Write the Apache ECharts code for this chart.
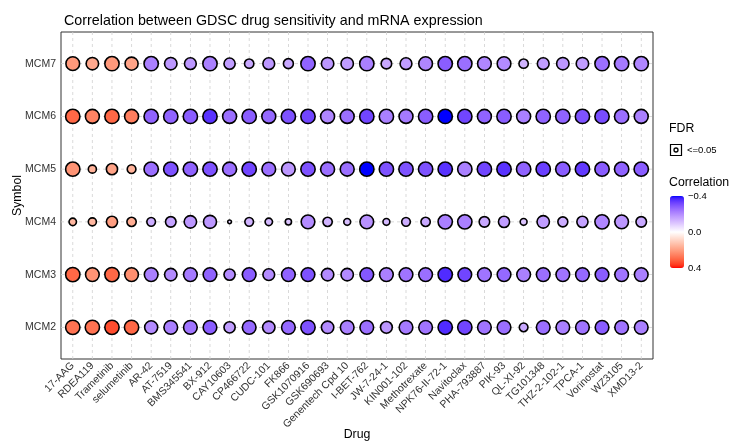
<!DOCTYPE html>
<html>
<head>
<meta charset="utf-8">
<script src="https://cdn.jsdelivr.net/npm/echarts@6/dist/echarts.min.js"></script>
<style>
html,body{margin:0;padding:0;background:#fff;}
#chart{width:731px;height:442px;}
</style>
</head>
<body>
<div id="chart"></div>
<script>
// ---------- data ----------
const drugs = ['17-AAG','RDEA119','Trametinib','selumetinib','AR-42','AT-7519','BMS345541','BX-912','CAY10603','CP466722','CUDC-101','FK866','GSK1070916','GSK690693','Genentech Cpd 10','I-BET-762','JW-7-24-1','KIN001-102','Methotrexate','NPK76-II-72-1','Navitoclax','PHA-793887','PIK-93','QL-XI-92','TG101348','THZ-2-102-1','TPCA-1','Vorinostat','WZ3105','XMD13-2'];
const symbols = ['MCM2','MCM3','MCM4','MCM5','MCM6','MCM7'];
const colorTicks = [-0.4, 0.0, 0.4];
const colorTickLabels = ['\u22120.4', '0.0', '0.4'];

// correlation per gene (drug order as above)
const corMCM2 = [0.28,0.28,0.34,0.30,-0.20,-0.22,-0.24,-0.28,-0.17,-0.26,-0.20,-0.26,-0.30,-0.20,-0.22,-0.25,-0.18,-0.23,-0.24,-0.36,-0.32,-0.24,-0.25,-0.15,-0.25,-0.22,-0.24,-0.28,-0.24,-0.22];
const corMCM3 = [0.30,0.22,0.30,0.23,-0.22,-0.20,-0.23,-0.27,-0.20,-0.28,-0.20,-0.27,-0.30,-0.20,-0.20,-0.29,-0.22,-0.24,-0.25,-0.36,-0.32,-0.24,-0.26,-0.22,-0.25,-0.24,-0.26,-0.28,-0.24,-0.22];
const corMCM4 = [0.15,0.15,0.20,0.17,-0.14,-0.16,-0.18,-0.18,-0.07,-0.13,-0.12,-0.10,-0.20,-0.13,-0.11,-0.19,-0.12,-0.14,-0.15,-0.22,-0.22,-0.15,-0.17,-0.10,-0.17,-0.14,-0.16,-0.21,-0.18,-0.15];
const corMCM5 = [0.22,0.16,0.19,0.16,-0.25,-0.30,-0.27,-0.30,-0.25,-0.32,-0.25,-0.18,-0.30,-0.25,-0.25,-0.40,-0.30,-0.30,-0.30,-0.35,-0.22,-0.32,-0.35,-0.27,-0.33,-0.28,-0.34,-0.28,-0.27,-0.28];
const corMCM6 = [0.30,0.25,0.30,0.26,-0.27,-0.27,-0.28,-0.35,-0.25,-0.28,-0.26,-0.30,-0.32,-0.21,-0.25,-0.32,-0.22,-0.23,-0.28,-0.40,-0.32,-0.27,-0.28,-0.22,-0.27,-0.27,-0.30,-0.31,-0.25,-0.22];
const corMCM7 = [0.21,0.18,0.21,0.19,-0.22,-0.18,-0.18,-0.22,-0.17,-0.15,-0.18,-0.15,-0.27,-0.18,-0.17,-0.22,-0.15,-0.17,-0.21,-0.28,-0.25,-0.21,-0.20,-0.13,-0.17,-0.18,-0.17,-0.25,-0.23,-0.21];

// -log10(FDR) per gene
const fdrMCM2 = [20,20,20,20,16.7,18.3,18.3,18.3,12.2,18.3,15.1,18.3,20,15.1,18.3,18.3,13.6,18.3,18.3,20,20,18.3,18.3,7.4,18.3,18.3,18.3,18.3,18.3,18.3];
const fdrMCM3 = [20,18.3,20,18.3,18.3,15.1,18.3,18.3,12.2,18.3,13.6,18.3,18.3,15.1,15.1,18.3,18.3,18.3,18.3,20,18.3,18.3,18.3,18.3,18.3,18.3,18.3,18.3,18.3,18.3];
const fdrMCM4 = [5.4,6.4,12.2,8.5,7.4,10.9,15.1,16.7,1.4,7.4,5.4,3.8,18.3,8.5,4.6,18.3,4.6,7.4,8.5,20,20,10.9,12.2,4.6,15.1,9.7,12.2,20,18.3,10.9];
const fdrMCM5 = [20,6.4,12.2,7.4,20,20,20,20,19,20,18.3,18.3,20,19,19,20,20,20,20,20,20,20,20,20,20,20,20,20,20,20];
const fdrMCM6 = [20,19,20,19,20,20,20,20,19,20,19,20,20,19,19,20,20,19,20,20,20,19,20,19,20,20,20,20,20,19];
const fdrMCM7 = [18.3,15.1,20,16.7,20,15.1,13.6,20,12.2,8.5,13.6,9.7,20,15.1,15.1,20,10.9,13.6,18.3,20,20,18.3,18.3,8.5,13.6,15.1,15.1,20,20,20];

const corByGene = [corMCM2, corMCM3, corMCM4, corMCM5, corMCM6, corMCM7];
const fdrByGene = [fdrMCM2, fdrMCM3, fdrMCM4, fdrMCM5, fdrMCM6, fdrMCM7];

// ---------- colour scale (Lab interpolation like ggplot gradient2) ----------
function hex2rgb(h){h=h.replace('#','');return [0,2,4].map(i=>parseInt(h.substr(i,2),16)/255);}
function toLin(c){return c<=0.04045?c/12.92:Math.pow((c+0.055)/1.055,2.4);}
function fromLin(c){c=Math.max(0,Math.min(1,c));return c<=0.0031308?12.92*c:1.055*Math.pow(c,1/2.4)-0.055;}
function rgb2lab(rgb){
  const [r,g,b]=rgb.map(toLin);
  const X=(0.4124*r+0.3576*g+0.1805*b)/0.95047, Y=(0.2126*r+0.7152*g+0.0722*b), Z=(0.0193*r+0.1192*g+0.9505*b)/1.08883;
  const f=t=>t>0.008856?Math.cbrt(t):(7.787*t+16/116);
  const fx=f(X),fy=f(Y),fz=f(Z);
  return [116*fy-16,500*(fx-fy),200*(fy-fz)];
}
function lab2hex(lab){
  const fy=(lab[0]+16)/116, fx=fy+lab[1]/500, fz=fy-lab[2]/200;
  const fi=t=>t>0.206893?t*t*t:(t-16/116)/7.787;
  const X=fi(fx)*0.95047,Y=fi(fy),Z=fi(fz)*1.08883;
  const r=3.2406*X-1.5372*Y-0.4986*Z, g=-0.9689*X+1.8758*Y+0.0415*Z, b=0.0557*X-0.2040*Y+1.0570*Z;
  return '#'+[r,g,b].map(c=>Math.round(fromLin(c)*255).toString(16).padStart(2,'0')).join('');
}
const labLow=rgb2lab(hex2rgb('#0000FF')), labMid=rgb2lab(hex2rgb('#FFFFFF')), labHigh=rgb2lab(hex2rgb('#FF0000'));
const cMin=-0.4, cMax=0.4, nStops=41;
const stops=[];
for(let k=0;k<nStops;k++){
  const v=cMin+(cMax-cMin)*k/(nStops-1);
  const t=v/0.4;
  const a=t<0?labLow:labHigh, s=Math.abs(t);
  stops.push(lab2hex([0,1,2].map(i=>labMid[i]+(a[i]-labMid[i])*s)));
}

// ---------- build series data ----------
const points=[];
symbols.forEach((g,gi)=>{
  drugs.forEach((d,di)=>{
    points.push([di,gi,corByGene[gi][di],fdrByGene[gi][di]]);
  });
});

const FONT='"Liberation Sans", Arial, Helvetica, sans-serif';
const X_MIN=-0.6, X_MAX=29.6, Y_MIN=-0.6, Y_MAX=5.6;
const bar={left:670, top:196, w:14, h:72};
const chart=echarts.init(document.getElementById('chart'),null,{renderer:'canvas'});

const graphics=[
  {type:'text', left:669, top:123, style:{text:'FDR', font:'12.3px '+FONT, fill:'#000'}},
  {type:'rect', shape:{x:670.5,y:144.5,width:11,height:11}, style:{fill:'#fff', stroke:'#000', lineWidth:1.2}},
  {type:'circle', shape:{cx:676,cy:150,r:2}, style:{fill:'#fff', stroke:'#000', lineWidth:1.3}},
  {type:'text', left:687, top:145, style:{text:'<=0.05', font:'9.5px '+FONT, fill:'#000'}},
  {type:'text', left:669, top:177, style:{text:'Correlation', font:'12.3px '+FONT, fill:'#000'}}
];
colorTicks.forEach((v,i)=>{
  graphics.push({type:'text', x:bar.left+bar.w+4, y:bar.top+(v-cMin)/(cMax-cMin)*bar.h,
    style:{text:colorTickLabels[i], font:'9.5px '+FONT, fill:'#000', verticalAlign:'middle', align:'left'}});
});

const gridStyle={stroke:'#d0d0d0', lineWidth:0.8, lineDash:[3,3]};

const option={
  animation:false,
  backgroundColor:'#fff',
  title:{text:'Correlation between GDSC drug sensitivity and mRNA expression', left:59, top:9,
    textStyle:{fontFamily:FONT, fontSize:14.3, fontWeight:'normal', color:'#000'}},
  grid:{left:61, right:78, top:32, bottom:83, show:true, borderColor:'#333', borderWidth:1,
    backgroundColor:'#fff', outerBoundsMode:'none', containLabel:false},
  xAxis:{type:'value', min:X_MIN, max:X_MAX,
    axisLine:{show:false}, splitLine:{show:false},
    axisTick:{show:true, customValues:drugs.map((d,i)=>i), length:4, lineStyle:{color:'#333'}},
    axisLabel:{customValues:drugs.map((d,i)=>i), formatter:v=>drugs[v], rotate:45, margin:5,
      fontFamily:FONT, fontSize:10.5, color:'#333'},
    name:'Drug', nameLocation:'middle', nameGap:70, nameMoveOverlap:false,
    nameTextStyle:{fontFamily:FONT, fontSize:12.3, color:'#000'}},
  yAxis:{type:'value', min:Y_MIN, max:Y_MAX,
    axisLine:{show:false}, splitLine:{show:false},
    axisTick:{show:true, customValues:symbols.map((s,i)=>i), length:4, lineStyle:{color:'#333'}},
    axisLabel:{customValues:symbols.map((s,i)=>i), formatter:v=>symbols[v], margin:5,
      fontFamily:FONT, fontSize:10.5, color:'#333'},
    name:'Symbol', nameLocation:'middle', nameGap:37, nameRotate:90, nameMoveOverlap:false,
    nameTextStyle:{fontFamily:FONT, fontSize:12.3, color:'#000'}},
  visualMap:{type:'continuous', min:cMin, max:cMax, dimension:2, seriesIndex:[2],
    inRange:{color:stops}, show:true, inverse:true, calculable:false, hoverLink:false,
    left:bar.left, top:bar.top, itemWidth:bar.w, itemHeight:bar.h, padding:0, text:null,
    showLabel:false, textStyle:{fontSize:0}},
  series:[
    {type:'custom', z:1, silent:true, data:drugs.map((d,i)=>[i]),
      renderItem:(params,api)=>{
        const p1=api.coord([api.value(0),Y_MIN]), p2=api.coord([api.value(0),Y_MAX]);
        return {type:'line', shape:{x1:p1[0],y1:p1[1],x2:p2[0],y2:p2[1]}, style:gridStyle};
      }},
    {type:'custom', z:1, silent:true, data:symbols.map((s,i)=>[i]),
      renderItem:(params,api)=>{
        const p1=api.coord([X_MIN,api.value(0)]), p2=api.coord([X_MAX,api.value(0)]);
        return {type:'line', shape:{x1:p1[0],y1:p1[1],x2:p2[0],y2:p2[1]}, style:gridStyle};
      }},
    {type:'scatter', data:points, z:3,
      symbol:'circle',
      symbolSize:v=>14.3*Math.sqrt(v[3]/20),
      itemStyle:{borderColor:'#000', borderWidth:1.6, opacity:1}}
  ],
  graphic:graphics
};
chart.setOption(option);
</script>
</body>
</html>
